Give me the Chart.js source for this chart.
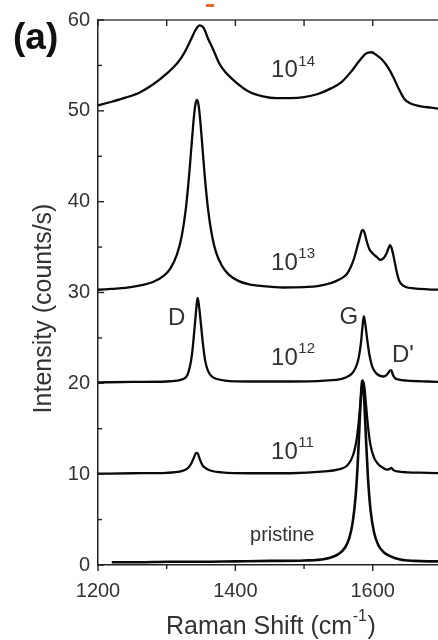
<!DOCTYPE html>
<html>
<head>
<meta charset="utf-8">
<script src="https://cdn.jsdelivr.net/npm/chart.js@4.4.1/dist/chart.umd.min.js"></script>
<style>
html,body{margin:0;padding:0;background:#fff;overflow:hidden}
canvas{display:block}
</style>
</head>
<body>
<canvas id="c" width="438" height="640"></canvas>
<script>
// ---- ticks ----
const xTickValues = [1200, 1300, 1400, 1500, 1600];
const xTickLabels = [1200, 1400, 1600];
const yTickValues = [0, 5, 10, 15, 20, 25, 30, 35, 40, 45, 50, 55, 60];
const yTickLabels = [0, 10, 20, 30, 40, 50, 60];

// ---- series: Raman shift (cm-1) and intensity (counts/s) ----
const shift14 = [1200,1220,1240,1260,1280,1300,1315,1325,1335,1342,1348,1354,1360,1368,1376,1385,1400,1420,1440,1460,1480,1500,1520,1540,1555,1570,1580,1590,1598,1606,1614,1622,1630,1638,1646,1655,1670,1685,1700];
const int14   = [50.6,51.0,51.45,52.0,52.9,54.1,55.2,56.3,57.8,58.9,59.4,59.1,58.0,56.7,55.3,54.3,53.2,52.1,51.6,51.4,51.4,51.5,51.85,52.5,53.2,54.45,55.45,56.3,56.45,56.1,55.6,54.8,53.7,52.4,51.3,50.8,50.5,50.35,50.2];

const shift13 = [1200,1220,1240,1260,1280,1295,1305,1315,1322,1328,1333,1337,1340,1342,1344,1346,1348,1351,1355,1360,1366,1372,1380,1390,1405,1420,1440,1470,1500,1520,1540,1552,1562,1568,1573,1577,1581,1584,1586,1588,1591,1595,1600,1606,1611,1616,1620,1623,1625,1627,1630,1634,1638,1642,1648,1660,1680,1700];
const int13   = [30.3,30.4,30.5,30.75,31.15,31.8,32.6,34.2,36.25,39.3,43.2,47.0,49.6,50.8,51.2,50.8,49.6,47.0,43.2,39.3,36.25,34.4,33.0,32.0,31.25,30.9,30.7,30.55,30.6,30.7,31.05,31.45,32.0,32.8,33.8,34.9,36.0,36.8,36.9,36.6,35.7,34.8,34.3,33.9,33.6,33.8,34.3,34.9,35.2,35.0,34.1,32.6,31.4,30.9,30.6,30.45,30.35,30.3];

const shift12 = [1200,1250,1300,1315,1325,1330,1334,1337,1340,1342,1344,1345,1346,1348,1350,1353,1356,1360,1365,1372,1385,1420,1480,1530,1555,1565,1572,1577,1580,1583,1585,1587,1589,1592,1595,1599,1604,1610,1616,1620,1623,1625,1627,1629,1632,1638,1650,1680,1700];
const int12   = [20.1,20.15,20.2,20.3,20.5,20.9,21.9,23.3,25.6,27.3,28.9,29.4,29.1,27.9,26.4,24.2,22.5,21.4,20.8,20.5,20.3,20.2,20.2,20.3,20.5,20.8,21.3,22.1,23.0,24.6,26.2,27.4,26.6,24.8,23.2,21.9,21.2,20.85,20.75,20.9,21.2,21.4,21.45,21.0,20.6,20.4,20.3,20.2,20.15];

const shift11 = [1200,1250,1300,1320,1330,1336,1340,1343,1345,1348,1352,1358,1366,1380,1420,1480,1530,1552,1562,1568,1573,1577,1580,1582,1584,1586,1588,1590,1593,1597,1602,1608,1615,1621,1624,1627,1630,1636,1650,1680,1700];
const int11   = [10.05,10.1,10.15,10.3,10.6,11.2,11.9,12.35,12.3,11.7,11.0,10.6,10.35,10.2,10.1,10.1,10.3,10.55,10.9,11.5,12.5,14.05,16.1,17.8,19.5,20.2,19.5,17.8,15.3,13.1,11.8,11.1,10.7,10.5,10.55,10.7,10.45,10.3,10.2,10.15,10.1];

const shiftP = [1220,1260,1300,1350,1400,1450,1500,1530,1550,1560,1566,1571,1575,1578,1580,1582,1584,1585,1586,1588,1590,1593,1597,1602,1608,1616,1626,1640,1660,1680,1700];
const intP   = [0.3,0.3,0.35,0.35,0.4,0.45,0.5,0.66,1.2,1.95,3.0,4.8,7.5,11.0,14.15,17.5,19.95,20.3,19.95,17.5,14.15,9.65,5.9,3.55,2.2,1.4,0.95,0.6,0.45,0.4,0.4];

// ---- texts ----
const seriesNames = ['1e14', '1e13', '1e12', '1e11', 'pristine'];
const doseBase = ['10', '10', '10', '10'];
const doseExp  = ['14', '13', '12', '11'];
const peakNames = ['D', 'G', "D'"];
const xTitle = ['Raman Shift (cm', '-1', ')'];
const yTitle = 'Intensity (counts/s)';
const panelTag = '(a)';

const pts = (xs, ys) => xs.map((x, i) => ({x: x, y: ys[i]}));

const FONT = '"Liberation Sans", Arial, sans-serif';
const TXT = '#333';

function supText(ctx, x, y, base, sup, size, supSize, rise) {
  ctx.font = size + 'px ' + FONT;
  ctx.fillText(base, x, y);
  const w = ctx.measureText(base).width;
  ctx.font = supSize + 'px ' + FONT;
  ctx.fillText(sup, x + w + 0.5, y - rise);
  return x + w + 0.5 + ctx.measureText(sup).width;
}

const decor = {
  id: 'decor',
  afterDraw(chart) {
    const {ctx, chartArea: a, scales: {x, y}} = chart;
    ctx.save();
    // top frame line
    ctx.strokeStyle = '#444';
    ctx.lineWidth = 1.5;
    ctx.beginPath(); ctx.moveTo(a.left, a.top); ctx.lineTo(a.right, a.top); ctx.stroke();
    // tick marks
    ctx.strokeStyle = '#222';
    ctx.lineWidth = 1.4;
    x.ticks.forEach(t => {
      const px = x.getPixelForValue(t.value);
      const major = xTickLabels.includes(t.value);
      ctx.beginPath(); ctx.moveTo(px, a.bottom); ctx.lineTo(px, a.bottom + (major ? 6 : 4)); ctx.stroke();
      ctx.beginPath(); ctx.moveTo(px, a.top); ctx.lineTo(px, a.top + 6); ctx.stroke();
    });
    y.ticks.forEach(t => {
      const py = y.getPixelForValue(t.value);
      const major = yTickLabels.includes(t.value);
      ctx.beginPath(); ctx.moveTo(a.left, py); ctx.lineTo(a.left + (major ? 6 : 4), py); ctx.stroke();
    });

    ctx.fillStyle = TXT;
    ctx.textBaseline = 'alphabetic';
    ctx.textAlign = 'left';
    // dose labels (anchored in data coordinates)
    const doseAt = [[1452, 53.67], [1452, 32.5], [1452, 22.04], [1452, 11.67]];
    doseAt.forEach((p, i) => {
      supText(ctx, x.getPixelForValue(p[0]), y.getPixelForValue(p[1]), doseBase[i], doseExp[i], 24, 15, 11.5);
    });
    ctx.font = '20px ' + FONT;
    ctx.fillText(seriesNames[4], x.getPixelForValue(1421.3), y.getPixelForValue(2.62));
    // peak labels
    const peakAt = [[1301.9, 26.4], [1551.6, 26.5], [1628.0, 22.36]];
    ctx.font = '24px ' + FONT;
    peakAt.forEach((p, i) => ctx.fillText(peakNames[i], x.getPixelForValue(p[0]), y.getPixelForValue(p[1])));

    // x axis title
    let xe = supText(ctx, 166, 634, xTitle[0], xTitle[1], 25, 16, 13);
    ctx.font = '25px ' + FONT;
    ctx.fillText(xTitle[2], xe + 0.5, 634);

    // y axis title
    ctx.save();
    ctx.translate(44, 308.5);
    ctx.rotate(-Math.PI / 2);
    ctx.textAlign = 'center';
    ctx.textBaseline = 'middle';
    ctx.font = '25px ' + FONT;
    ctx.fillText(yTitle, 0, 0);
    ctx.restore();

    // panel tag
    ctx.fillStyle = '#111';
    ctx.font = 'bold 37px ' + FONT;
    ctx.fillText(panelTag, 13, 48.5);

    // small orange mark at the top edge
    ctx.fillStyle = '#ee6a2a';
    ctx.fillRect(206, 4, 8, 3);
    ctx.restore();
  }
};

const mk = (xs, ys, name, w) => ({
  label: name,
  data: pts(xs, ys),
  borderColor: '#0a0a0a',
  borderWidth: w,
  pointRadius: 0,
  fill: false,
  cubicInterpolationMode: 'monotone'
});

new Chart(document.getElementById('c'), {
  type: 'line',
  data: {
    datasets: [
      mk(shift14, int14, seriesNames[0], 2.3),
      mk(shift13, int13, seriesNames[1], 2.3),
      mk(shift12, int12, seriesNames[2], 2.3),
      mk(shift11, int11, seriesNames[3], 2.3),
      mk(shiftP, intP, seriesNames[4], 2.6)
    ]
  },
  options: {
    responsive: false,
    animation: false,
    layout: {padding: {top: 15, right: 0, bottom: 0, left: 0}},
    plugins: {legend: {display: false}, tooltip: {enabled: false}},
    scales: {
      x: {
        type: 'linear', min: 1200, max: 1695,
        afterFit(s) { s.height = 75; },
        afterBuildTicks(s) { s.ticks = xTickValues.map(v => ({value: v})); },
        grid: {display: false, drawTicks: false},
        border: {display: true, color: '#222', width: 1.5},
        ticks: {
          padding: 14, color: TXT, maxRotation: 0, minRotation: 0, autoSkip: false,
          font: {family: FONT, size: 20},
          callback: v => xTickLabels.includes(v) ? String(v) : ''
        }
      },
      y: {
        type: 'linear', min: 0, max: 60,
        afterFit(s) { s.width = 98; },
        afterBuildTicks(s) { s.ticks = yTickValues.map(v => ({value: v})); },
        grid: {display: false, drawTicks: false},
        border: {display: true, color: '#222', width: 1.5},
        ticks: {
          padding: 8, color: TXT, autoSkip: false,
          font: {family: FONT, size: 20},
          callback: v => yTickLabels.includes(v) ? String(v) : ''
        }
      }
    }
  },
  plugins: [decor]
});
</script>
</body>
</html>
